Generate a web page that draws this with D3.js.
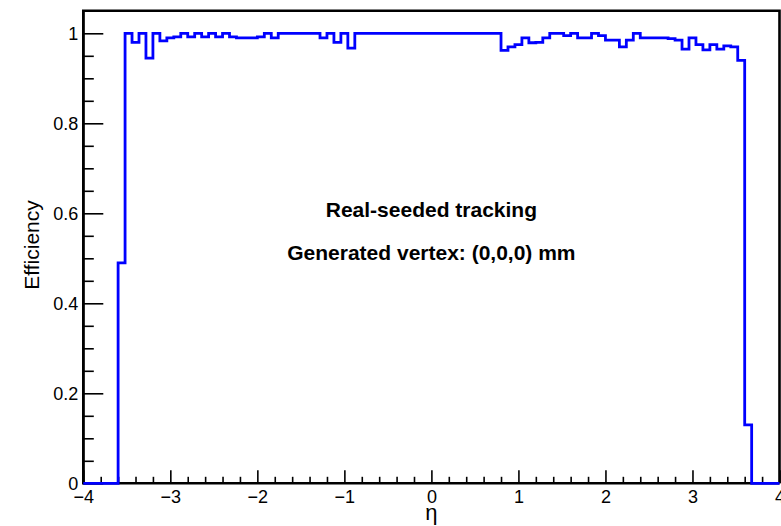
<!DOCTYPE html>
<html>
<head>
<meta charset="utf-8">
<script src="https://cdn.jsdelivr.net/npm/d3@7"></script>
<style>
  html, body { margin: 0; padding: 0; background: #fff; }
  svg { display: block; }
  text { font-family: "Liberation Sans", Arial, Helvetica, sans-serif; fill: #000; }
</style>
</head>
<body>
<svg id="chart" width="781" height="526"></svg>
<script>
// Histogram binning in eta
const etaMin = -4;
const etaMax = 4;
const nBins = 100;

// Efficiency per eta bin (bin width 0.08)
const efficiency = [
  0, 0, 0, 0, 0, 0.49, 1.0, 0.98, 1.0, 0.945,
  1.0, 0.983, 0.99, 0.992, 1.0, 0.992, 1.0, 0.992, 1.0, 0.992,
  1.0, 0.992, 0.99, 0.99, 0.99, 0.992, 1.0, 0.99, 1.0, 1.0,
  1.0, 1.0, 1.0, 1.0, 0.99, 1.0, 0.98, 1.0, 0.967, 1.0,
  1.0, 1.0, 1.0, 1.0, 1.0, 1.0, 1.0, 1.0, 1.0, 1.0,
  1.0, 1.0, 1.0, 1.0, 1.0, 1.0, 1.0, 1.0, 1.0, 1.0,
  0.962, 0.97, 0.975, 0.99, 0.979, 0.98, 0.99, 1.0, 1.0, 0.995,
  1.0, 0.99, 0.99, 1.0, 0.995, 0.985, 0.985, 0.97, 0.985, 1.0,
  0.99, 0.99, 0.99, 0.99, 0.988, 0.985, 0.965, 0.99, 0.975, 0.963,
  0.975, 0.965, 0.972, 0.97, 0.94, 0.13, 0, 0, 0, 0
];

// Axis ticks and labels
const xMajorTicks = [-4, -3, -2, -1, 0, 1, 2, 3, 4];
const xMinorTicks = d3.range(-40, 41, 2).map(d => d / 10).filter(d => !Number.isInteger(d));
const yMajorTicks = [0, 0.2, 0.4, 0.6, 0.8, 1];
const yMinorTicks = d3.range(0, 21).map(d => d * 0.05).filter(d => Math.abs(d * 5 - Math.round(d * 5)) > 1e-6);
const xTitle = "η";
const yTitle = "Efficiency";
const annotations = ["Real-seeded tracking", "Generated vertex: (0,0,0) mm"];

const svg = d3.select("#chart");
const padL = 83.3, padR = 779.5, padT = 10.8, padB = 483.3;

const x = d3.scaleLinear().domain([etaMin, etaMax]).range([padL, padR]);
const y = d3.scaleLinear().domain([0, 1.05]).range([padB, padT]);

// Frame
svg.append("path")
  .attr("d", `M${padL},${padB}V${padT}H${padR}V${padB}`)
  .attr("fill", "none").attr("stroke", "#000").attr("stroke-width", 2.6);

const fmtX = d => (d < 0 ? "\u2212" + Math.abs(d) : String(d));
const fmtY = d => (d === 0 ? "0" : d === 1 ? "1" : d3.format(".1f")(d));

// X axis (ticks point into the frame)
const gx = svg.append("g").attr("transform", `translate(0,${padB})`);
gx.call(d3.axisBottom(x).tickValues(xMajorTicks).tickSize(-13).tickPadding(7).tickFormat(fmtX));
gx.append("g").call(d3.axisBottom(x).tickValues(xMinorTicks).tickSize(-6.5).tickFormat(""));
gx.selectAll(".domain").remove();
gx.selectAll("line").attr("stroke", "#000").attr("stroke-width", 1.6);
gx.selectAll("text").attr("font-size", 18).attr("fill", "#000");

// Y axis
const gy = svg.append("g").attr("transform", `translate(${padL},0)`);
gy.call(d3.axisLeft(y).tickValues(yMajorTicks).tickSize(-20).tickPadding(5).tickFormat(fmtY));
gy.append("g").call(d3.axisLeft(y).tickValues(yMinorTicks).tickSize(-10.5).tickFormat(""));
gy.selectAll(".domain").remove();
gy.selectAll("line").attr("stroke", "#000").attr("stroke-width", 1.6);
gy.selectAll("text").attr("font-size", 18).attr("fill", "#000");

// Axis lines drawn over tick roots
svg.append("line").attr("x1", padL - 1).attr("x2", padR).attr("y1", padB).attr("y2", padB)
  .attr("stroke", "#000").attr("stroke-width", 2.6);
svg.append("line").attr("x1", padL).attr("x2", padL).attr("y1", padT).attr("y2", padB + 1)
  .attr("stroke", "#000").attr("stroke-width", 2.6);

// Histogram outline
const binW = (etaMax - etaMin) / nBins;
const pts = efficiency.map((v, i) => [etaMin + i * binW, v]);
pts.push([etaMax, efficiency[nBins - 1]]);
const stepLine = d3.line()
  .x(d => x(d[0]))
  .y(d => y(d[1]))
  .curve(d3.curveStepAfter);
svg.append("path")
  .datum(pts)
  .attr("d", stepLine)
  .attr("fill", "none")
  .attr("stroke", "#0000ff")
  .attr("stroke-width", 2.8);

// Axis titles
svg.append("text")
  .attr("x", x(0)).attr("y", 520)
  .attr("text-anchor", "middle").attr("font-size", 22)
  .text(xTitle);
svg.append("text")
  .attr("transform", `translate(39,${245}) rotate(-90)`)
  .attr("text-anchor", "middle").attr("font-size", 21)
  .text(yTitle);

// Annotations
svg.selectAll("text.note")
  .data(annotations)
  .join("text")
  .attr("class", "note")
  .attr("x", x(0))
  .attr("y", (d, i) => 217 + i * 43)
  .attr("text-anchor", "middle")
  .attr("font-size", 21)
  .attr("font-weight", "bold")
  .text(d => d);
</script>
</body>
</html>
